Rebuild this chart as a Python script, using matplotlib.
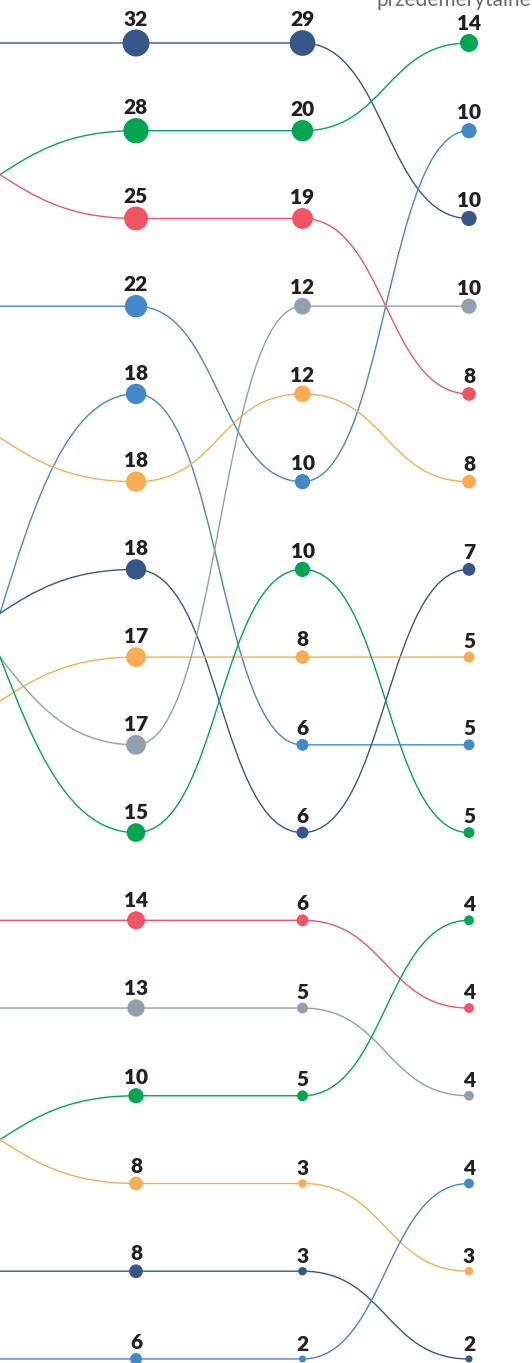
import numpy as np
import matplotlib
matplotlib.use("Agg")
import matplotlib.pyplot as plt
from matplotlib.path import Path
from matplotlib.patches import PathPatch

# ---------------- data ----------------
# one entry per series, ordered by rank in the first visible column
series_colors = ["#36578a", "#00a651", "#f05465", "#4389c9", "#4389c9", "#f9ad52",
                 "#36578a", "#f9ad52", "#939fad", "#00a651", "#f05465", "#939fad",
                 "#00a651", "#f9ad52", "#36578a", "#4389c9"]

# rank in the (cropped) previous column
rank_prev = [1, 3, 2, 4, 10, 5, 8, 9, 7, 6, 11, 12, 14, 13, 15, 16]

rank_c1 = [1, 2, 3, 4, 5, 6, 7, 8, 9, 10, 11, 12, 13, 14, 15, 16]
values_c1 = [32, 28, 25, 22, 18, 18, 18, 17, 17, 15, 14, 13, 10, 8, 8, 6]

rank_c2 = [1, 2, 3, 6, 9, 5, 10, 8, 4, 7, 11, 12, 13, 14, 15, 16]
values_c2 = [29, 20, 19, 10, 6, 12, 6, 8, 12, 10, 6, 5, 5, 3, 3, 2]

rank_c3 = [3, 1, 5, 2, 9, 6, 7, 8, 4, 10, 12, 13, 11, 15, 16, 14]
values_c3 = [10, 14, 8, 10, 5, 8, 7, 5, 10, 5, 4, 4, 4, 3, 2, 4]

header_label = "przedemerytalne"

# ---------------- layout ----------------
W, H, DPI = 532, 1363, 100
fig = plt.figure(figsize=(W / DPI, H / DPI), dpi=DPI)
fig.patch.set_facecolor("white")
ax = fig.add_axes([0, 0, 1, 1])
ax.axis("off")

px_per_col = 166.5
row_px = 87.73
col_pos = [1 - 272 / px_per_col, 1.0, 2.0, 3.0]
x_left = 1 - 136 / px_per_col
y_top = 1 - 43 / row_px
ax.set_xlim(x_left, x_left + W / px_per_col)
ax.set_ylim(y_top + H / row_px, y_top)

ranks = [rank_prev, rank_c1, rank_c2, rank_c3]
values = [None, values_c1, values_c2, values_c3]

# ---------------- links (bump curves) ----------------
n = len(series_colors)
for i in range(n):
    xs = col_pos
    ys = [r[i] for r in ranks]
    verts = [(xs[0], ys[0])]
    codes = [Path.MOVETO]
    for k in range(1, len(xs)):
        xm = (xs[k - 1] + xs[k]) / 2
        verts += [(xm, ys[k - 1]), (xm, ys[k]), (xs[k], ys[k])]
        codes += [Path.CURVE4] * 3
    ax.add_patch(PathPatch(Path(verts, codes), fill=False,
                           edgecolor=series_colors[i], lw=1.0, zorder=1,
                           capstyle="round", joinstyle="round"))

# ---------------- dots + labels ----------------
def radius_px(v):
    return 2.35 * np.sqrt(v) + 0.2

for k in range(1, 4):
    for i in range(n):
        v = values[k][i]
        r = radius_px(v)
        d_pt = 2 * r * 72 / DPI
        ax.scatter([col_pos[k]], [ranks[k][i]], s=d_pt ** 2,
                   color=series_colors[i], edgecolors="none", zorder=3)
        ax.annotate(str(v), (col_pos[k], ranks[k][i]),
                    xytext=(0, (r + 4) * 72 / DPI), textcoords="offset points",
                    ha="center", va="baseline", fontsize=15,
                    fontfamily="Lato", fontweight="heavy", color="#231f20",
                    zorder=4)

# ---------------- header (cropped at the top edge, as in the source) ----------------
ax.text(x_left + 377 / px_per_col, y_top + 6 / row_px, header_label,
        ha="left", va="baseline", fontsize=15, fontfamily="Lato",
        fontweight="normal", color="#6a6a6a")

fig.savefig("out.png", dpi=DPI, facecolor="white")
